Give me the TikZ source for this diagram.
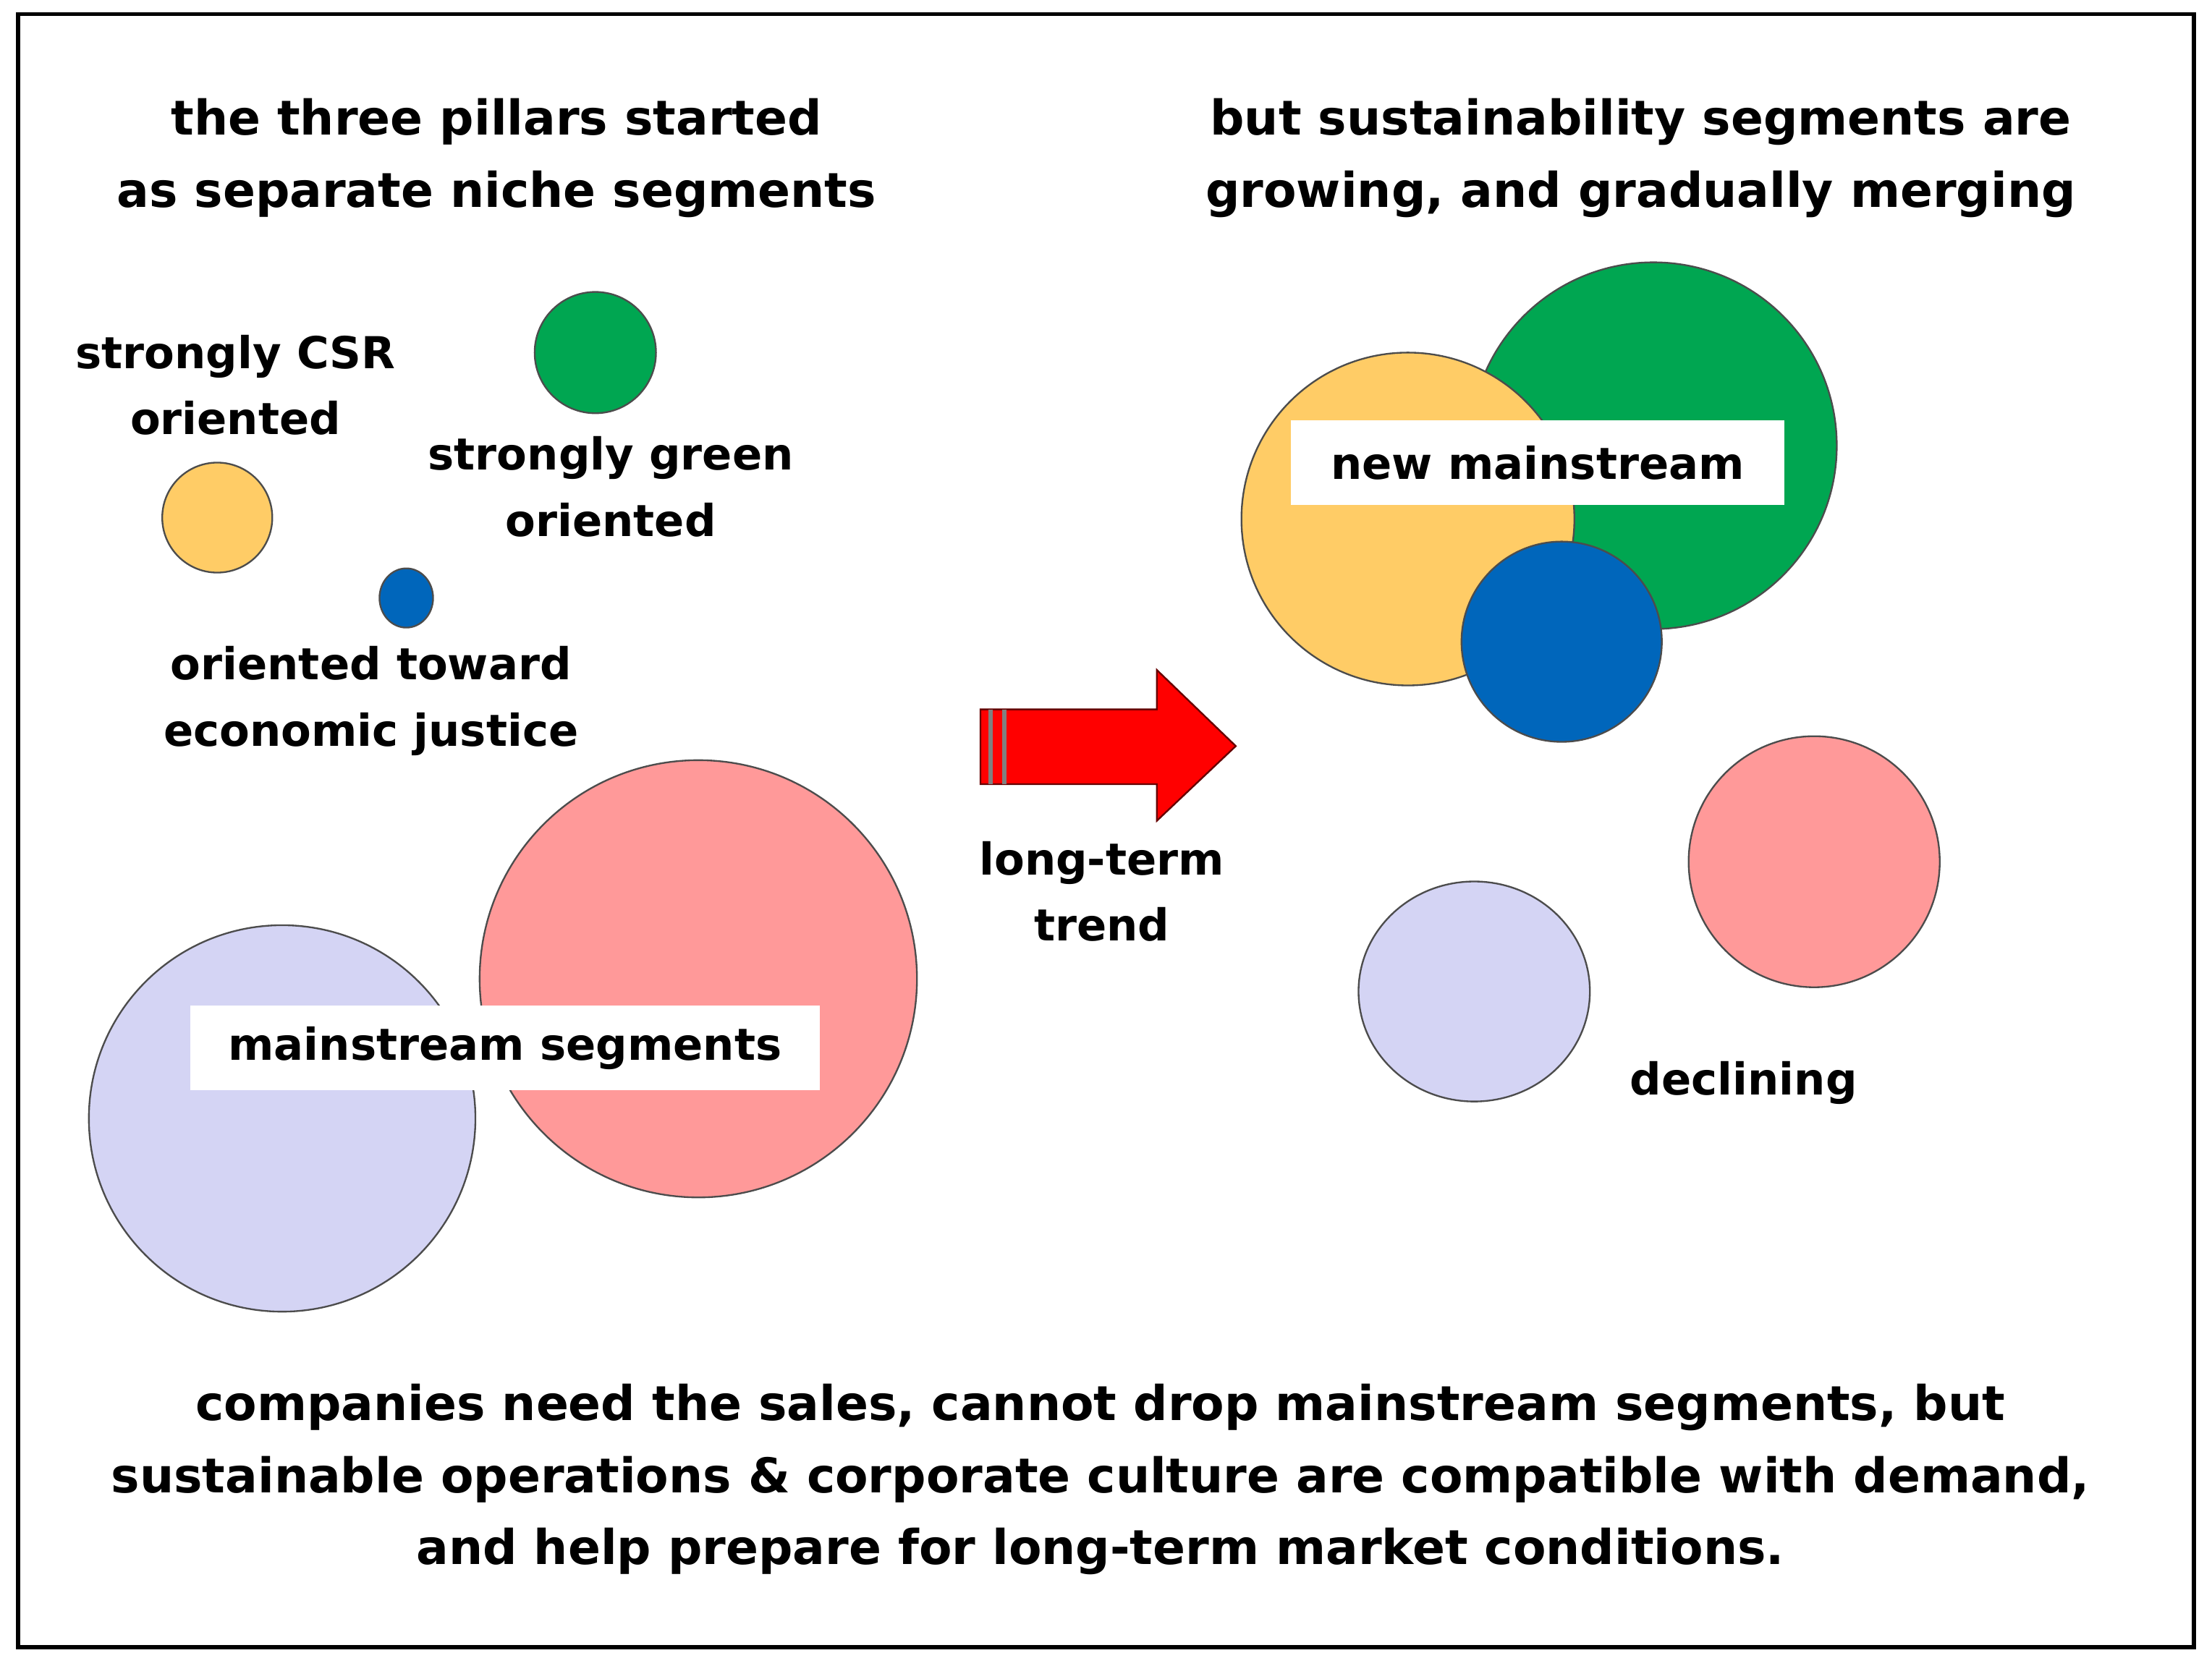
\documentclass[tikz,border=0pt]{standalone}
\usepackage{fontspec}
\setmainfont{DejaVu Sans}
\usetikzlibrary{shapes.geometric}
\begin{document}
\begin{tikzpicture}[x=0.5pt,y=-0.5pt,
  txt/.style={font=\fontsize{15.6}{23.5}\selectfont\bfseries,align=center,inner sep=0pt},
  big/.style={txt,font=\fontsize{17}{25.5}\selectfont\bfseries},
  seg/.style={draw=black!70,line width=0.6pt},
  lbl/.style={txt,fill=white,inner xsep=8pt,inner ysep=6pt}]
\definecolor{cg}{RGB}{0,166,81}
\definecolor{cy}{RGB}{255,204,102}
\definecolor{cb}{RGB}{0,102,187}
\definecolor{cp}{RGB}{255,153,153}
\definecolor{cl}{RGB}{212,212,244}
\useasboundingbox (0,0) rectangle (1568,1181);
\draw[line width=1.5pt] (13,10) rectangle (1555,1168);
\node[big] (t1) at (352,112) {the three pillars started\\as separate niche segments};
\node[big] (t2) at (1163,112) {but sustainability segments are\\growing, and gradually merging};
% left small
\node[seg,fill=cg,circle,minimum size=43pt,inner sep=0pt] (g1) at (422,250) {};
\node[seg,fill=cy,circle,minimum size=39pt,inner sep=0pt] (y1) at (154,367) {};
\node[seg,fill=cb,ellipse,minimum width=19pt,minimum height=21pt,inner sep=0pt] (b1) at (288,424) {};
\node[txt] (l1) at (167,273) {strongly CSR\\oriented};
\node[txt] (l2) at (433,345) {strongly green\\oriented};
\node[txt] (l3) at (263,497) {oriented toward\\economic justice};
% left big
\node[seg,fill=cp,circle,minimum size=155pt,inner sep=0pt] (p1) at (495,694) {};
\node[seg,fill=cl,circle,minimum size=137pt,inner sep=0pt] (v1) at (200,793) {};
\node[lbl,minimum width=223pt,minimum height=30pt] (m1) at (358,743) {mainstream segments};
% arrow
\filldraw[fill=red,draw=black!60!red,line width=0.6pt] (695,503) -- (820,503) -- (820,475) -- (876,529) -- (820,582) -- (820,556) -- (695,556) -- cycle;
\draw[black!50,line width=1.5pt] (702,503) -- (702,556) (712,503) -- (712,556);
\node[txt] (lt) at (781,632) {long-term\\trend};
% right
\node[seg,fill=cg,circle,minimum size=130pt,inner sep=0pt] (g2) at (1172,316) {};
\node[seg,fill=cy,circle,minimum size=118pt,inner sep=0pt] (y2) at (998,368) {};
\node[seg,fill=cb,circle,minimum size=71pt,inner sep=0pt] (b2) at (1107,455) {};
\node[lbl,minimum width=175pt,minimum height=30pt] (m2) at (1090,328) {new mainstream};
\node[seg,fill=cp,circle,minimum size=89pt,inner sep=0pt] (p2) at (1286,611) {};
\node[seg,fill=cl,ellipse,minimum width=82pt,minimum height=78pt,inner sep=0pt] (v2) at (1045,703) {};
\node[txt] (dc) at (1236,768) {declining};
\node[big] (bt) at (780,1049) {companies need the sales, cannot drop mainstream segments, but\\sustainable operations \& corporate culture are compatible with demand,\\and help prepare for long-term market conditions.};
\end{tikzpicture}
\end{document}
